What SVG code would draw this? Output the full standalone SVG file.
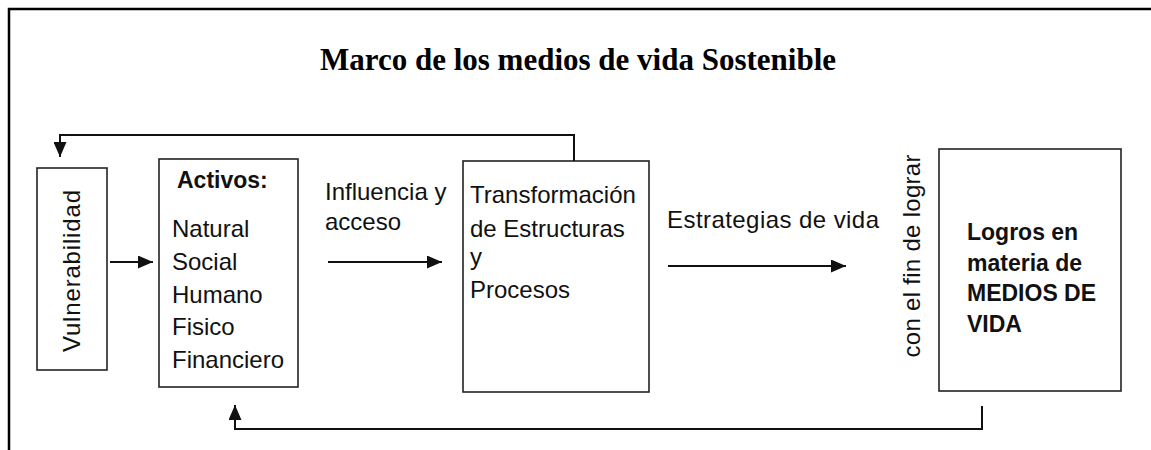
<svg xmlns="http://www.w3.org/2000/svg" width="1151" height="450" viewBox="0 0 1151 450">
<defs>
<marker id="ah" markerUnits="userSpaceOnUse" markerWidth="15" markerHeight="13" refX="15" refY="6.5" orient="auto">
<path d="M0,0 L15,6.5 L0,13 z" fill="#111"/>
</marker>
<style>
.box{fill:#fff;stroke:#222;stroke-width:1.6}
.t{font-family:"Liberation Sans",Arial,sans-serif;font-size:24px;fill:#111}
.b{font-family:"Liberation Sans",Arial,sans-serif;font-size:23px;font-weight:bold;fill:#111}
.ttl{font-family:"Liberation Serif","Times New Roman",serif;font-size:31px;font-weight:bold;fill:#000}
.c{fill:none;stroke:#111;stroke-width:2}
</style>
</defs>
<rect x="0" y="0" width="1151" height="450" fill="#fff"/>
<path d="M9,450 V9 H1151" fill="none" stroke="#000" stroke-width="2.5"/>
<text class="ttl" x="578" y="70" text-anchor="middle">Marco de los medios de vida Sostenible</text>

<g id="vulnerabilidad">
<rect class="box" x="37" y="168" width="70" height="202"/>
<text class="t" transform="translate(80,271) rotate(-90)" text-anchor="middle" textLength="162" lengthAdjust="spacing">Vulnerabilidad</text>
</g>

<g id="activos">
<rect class="box" x="159" y="159" width="139" height="228"/>
<text class="b" x="177" y="188" font-size="24">Activos:</text>
<text class="t" x="172" y="237">Natural</text>
<text class="t" x="172" y="270">Social</text>
<text class="t" x="172" y="303">Humano</text>
<text class="t" x="172" y="335">Fisico</text>
<text class="t" x="172" y="368">Financiero</text>
</g>

<g id="transformacion">
<rect class="box" x="463" y="161" width="186" height="231"/>
<text class="t" x="470" y="203">Transformación</text>
<text class="t" x="470" y="237">de Estructuras</text>
<text class="t" x="470" y="265">y</text>
<text class="t" x="470" y="298">Procesos</text>
</g>

<g id="logros">
<rect class="box" x="939" y="149" width="182" height="242"/>
<text class="b" x="967" y="240">Logros en</text>
<text class="b" x="967" y="271">materia de</text>
<text class="b" x="967" y="301">MEDIOS DE</text>
<text class="b" x="967" y="332">VIDA</text>
</g>

<g id="labels">
<text class="t" x="325" y="200">Influencia y</text>
<text class="t" x="325" y="230">acceso</text>
<text class="t" x="667" y="228" textLength="212" lengthAdjust="spacing">Estrategias de vida</text>
<text class="t" transform="translate(920,256) rotate(-90)" text-anchor="middle" textLength="203" lengthAdjust="spacing">con el fin de lograr</text>
</g>

<g id="connectors">
<line class="c" x1="110" y1="262" x2="153" y2="262" marker-end="url(#ah)"/>
<line class="c" x1="328" y1="262" x2="442" y2="262" marker-end="url(#ah)"/>
<line class="c" x1="668" y1="266" x2="846" y2="266" marker-end="url(#ah)"/>
<path class="c" d="M574,161 V135 H60 V157" marker-end="url(#ah)"/>
<path class="c" d="M982,406 V429 H235 V405" marker-end="url(#ah)"/>
</g>
</svg>
